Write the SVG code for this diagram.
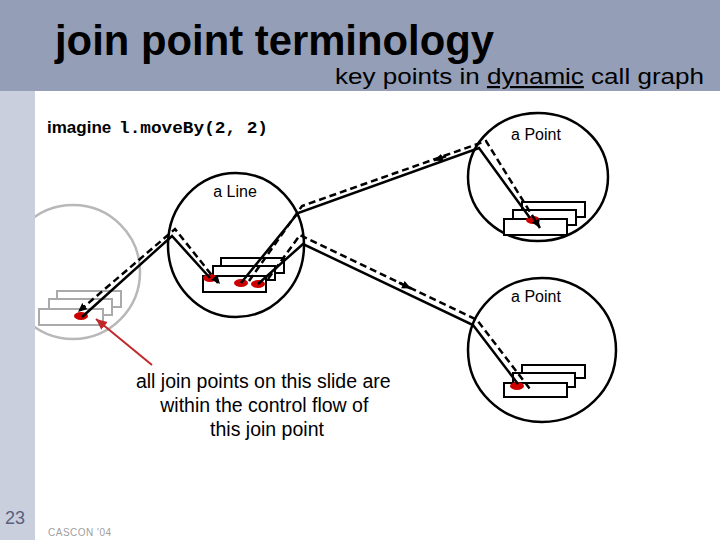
<svg xmlns="http://www.w3.org/2000/svg" width="720" height="540" viewBox="0 0 720 540">
  <style>
    .sans { font-family: "Liberation Sans", Arial, sans-serif; }
    .mono { font-family: "Liberation Mono", "Courier New", monospace; }
    .circ { fill: none; stroke: #000; stroke-width: 2.5; }
    .gcirc { fill: none; stroke: #b8b8b8; stroke-width: 2.5; }
    .box { fill: #fff; stroke: #000; stroke-width: 2; }
    .gbox { fill: #fff; stroke: #aaa; stroke-width: 2; }
    .jp { fill: #cc0000; }
    .solid { fill: none; stroke: #000; stroke-width: 2.5; }
    .dash { fill: none; stroke: #000; stroke-width: 2.5; stroke-dasharray: 7 4; }
    .lbl { font-family: "Liberation Sans", Arial, sans-serif; font-size: 16px; fill: #000; }
  </style>
  <defs>
    <marker id="ah" markerUnits="userSpaceOnUse" markerWidth="12" markerHeight="10" refX="9" refY="4" orient="auto">
      <path d="M0,0 L9,4 L0,8 Z" fill="#000"/>
    </marker>
    <marker id="rah" markerUnits="userSpaceOnUse" markerWidth="14" markerHeight="12" refX="11" refY="5" orient="auto">
      <path d="M0,0 L11,5 L0,10 Z" fill="#c0282a"/>
    </marker>
  </defs>

  <rect x="0" y="0" width="720" height="540" fill="#fff"/>

  <!-- left join point (faded) -->
  <g id="outer-jp">
    <circle class="gcirc" cx="73" cy="272" r="67"/>
    <rect class="gbox" x="57" y="291" width="64" height="16"/>
    <rect class="gbox" x="49" y="299" width="63" height="16"/>
    <rect class="gbox" x="39" y="309" width="64" height="16"/>
    <ellipse class="jp" cx="81" cy="316" rx="7" ry="4"/>
  </g>

  <!-- header and side strip -->
  <g id="header">
    <rect x="0" y="0" width="720" height="91" fill="#949eb6"/>
    <rect x="0" y="91" width="35" height="449" fill="#c9cfdd"/>
    <text class="sans" x="55" y="55" font-size="42" font-weight="bold" textLength="439" lengthAdjust="spacingAndGlyphs" fill="#000">join point terminology</text>
    <text class="sans" x="335" y="84" font-size="22" textLength="369" lengthAdjust="spacingAndGlyphs" fill="#000">key points in <tspan text-decoration="underline">dynamic</tspan> call graph</text>
  </g>

  <g id="caption">
    <text class="sans" x="47" y="133" font-size="17" font-weight="bold">imagine</text>
    <text class="mono" x="119" y="133" font-size="17" font-weight="bold" textLength="149" lengthAdjust="spacingAndGlyphs">l.moveBy(2, 2)</text>
  </g>

  <!-- a Line -->
  <g id="line-obj">
    <ellipse class="circ" cx="236" cy="245" rx="68" ry="72"/>
    <text class="lbl" x="235" y="197" text-anchor="middle">a Line</text>
    <rect class="box" x="221" y="258" width="63" height="15"/>
    <rect class="box" x="213" y="266" width="62" height="14"/>
    <rect class="box" x="203" y="276" width="63" height="16"/>
    <ellipse class="jp" cx="210" cy="278" rx="7" ry="4"/>
    <ellipse class="jp" cx="241" cy="283" rx="7" ry="4"/>
    <ellipse class="jp" cx="258" cy="284" rx="7" ry="4"/>
  </g>

  <!-- top a Point -->
  <g id="point-1">
    <ellipse class="circ" cx="538" cy="177" rx="70" ry="64"/>
    <text class="lbl" x="536" y="140" text-anchor="middle">a Point</text>
    <rect class="box" x="522" y="202" width="63" height="15"/>
    <rect class="box" x="513" y="210" width="63" height="15"/>
    <rect class="box" x="504" y="219" width="63" height="16"/>
    <ellipse class="jp" cx="533" cy="220" rx="7" ry="4"/>
  </g>

  <!-- bottom a Point -->
  <g id="point-2">
    <ellipse class="circ" cx="542" cy="350" rx="74" ry="72"/>
    <text class="lbl" x="536" y="302" text-anchor="middle">a Point</text>
    <rect class="box" x="522" y="365" width="63" height="13"/>
    <rect class="box" x="513" y="373" width="62" height="14"/>
    <rect class="box" x="504" y="383" width="63" height="14"/>
    <ellipse class="jp" cx="517" cy="386" rx="7" ry="4"/>
  </g>

  <!-- connectors -->
  <g id="connectors">
    <polyline class="solid" points="82,317 172,236 210,278"/>
    <polyline class="dash" points="218,283 175,229 78,312" marker-end="url(#ah)"/>
    <path d="M176,231 L220,284" fill="none" stroke="none" marker-end="url(#ah)"/>

    <polyline class="solid" points="241,283 298,213 479,148 530,218"/>
    <polyline class="dash" points="249,281 302,206 486,141 540,228" marker-end="url(#ah)"/>
    <path d="M446,156.2 L434,160.4" stroke="#000" stroke-width="2.5" marker-end="url(#ah)"/>

    <polyline class="solid" points="258,284 303,244 473,325 518,384"/>
    <polyline class="dash" points="268,279 300,235 477,320 530,389"/>
    <path d="M399,282.7 L411,288.5" stroke="#000" stroke-width="2.5" marker-end="url(#ah)"/>

    <line x1="152" y1="365" x2="96" y2="319" stroke="#c0282a" stroke-width="2" marker-end="url(#rah)"/>
  </g>

  <g id="note">
    <text class="sans" font-size="19.5" fill="#000" text-anchor="middle">
      <tspan x="266" y="388">all join points on this slide are</tspan>
      <tspan x="267" y="412">within the control flow of</tspan>
      <tspan x="267" y="436">this join point</tspan>
    </text>
  </g>

  <g id="footer">
    <text class="sans" x="5" y="524" font-size="18" fill="#5a6080">23</text>
    <text class="sans" x="48" y="536" font-size="10" fill="#a0a0a0" letter-spacing="0.5">CASCON '04</text>
  </g>
</svg>
